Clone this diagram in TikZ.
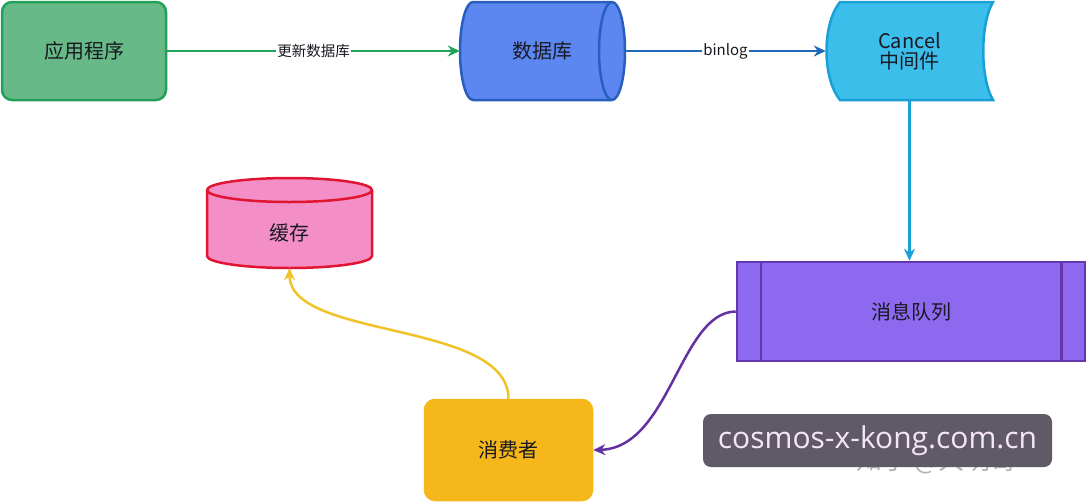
\documentclass[tikz,border=0pt]{standalone}
\usepackage{fontspec}
\setmainfont{Noto Sans CJK SC}
\newfontfamily\wmfont{Open Sans}
\usetikzlibrary{arrows.meta,calc}
\definecolor{appfill}{RGB}{103,185,135}
\definecolor{appborder}{RGB}{35,160,90}
\definecolor{greenarrow}{RGB}{30,165,90}
\definecolor{dbfill}{RGB}{93,135,240}
\definecolor{dbborder}{RGB}{40,95,190}
\definecolor{bluearrow}{RGB}{30,105,185}
\definecolor{cyfill}{RGB}{60,190,235}
\definecolor{cyborder}{RGB}{25,160,215}
\definecolor{mqfill}{RGB}{140,105,238}
\definecolor{mqborder}{RGB}{100,55,175}
\definecolor{purplearrow}{RGB}{100,50,160}
\definecolor{yfill}{RGB}{245,183,26}
\definecolor{yarrow}{RGB}{240,195,40}
\definecolor{pinkfill}{RGB}{243,143,198}
\definecolor{redborder}{RGB}{225,20,50}
\definecolor{wmbox}{RGB}{95,90,102}
\definecolor{wmtext}{RGB}{245,230,245}
\definecolor{txt}{RGB}{25,25,35}
\tikzset{
  shapebox/.style={inner sep=0pt, text=txt, font=\fontsize{20}{24}\selectfont, align=center},
  rbox/.style={shapebox, draw, line width=2.5pt, rounded corners=10pt},
  outl/.style={line width=2.5pt},
  conn/.style={line width=2.5pt, -{Stealth[length=12pt,width=11pt]}},
  lbl/.style={fill=white, inner sep=1pt, text=txt, font=\fontsize{14.5}{17}\selectfont}
}
\begin{document}
\begin{tikzpicture}[x=1pt,y=-1pt]
\useasboundingbox[fill=white] (0,0) rectangle (1086,501);
% database cylinder
\draw[outl, fill=dbfill, draw=dbborder]
  (473,2) -- (612,2) arc[start angle=-90, end angle=90, x radius=13, y radius=49]
  -- (473,100) arc[start angle=90, end angle=270, x radius=13, y radius=49] -- cycle;
\draw[outl, draw=dbborder] (612,2) arc[start angle=-90, end angle=-270, x radius=13, y radius=49];
% cancel shape
\draw[outl, fill=cyfill, draw=cyborder]
  (840,2) -- (993,2) .. controls (980,24) and (980,78) .. (993,100)
  -- (840,100) .. controls (822,78) and (822,24) .. (840,2) -- cycle;
% cache cylinder
\draw[outl, fill=pinkfill, draw=redborder]
  (207,190) -- (207,256) arc[start angle=180, end angle=0, x radius=82.5, y radius=12]
  -- (372,190) arc[start angle=0, end angle=-180, x radius=82.5, y radius=12] -- cycle;
\draw[outl, draw=redborder] (207,190) arc[start angle=180, end angle=0, x radius=82.5, y radius=12];
% nodes
\node[rbox, fill=appfill, draw=appborder, minimum width=164pt, minimum height=98pt] (app) at (84,51) {应用程序};
\node[shapebox, minimum width=165pt, minimum height=98pt] (db) at (542.5,51) {数据库};
\node[shapebox, minimum width=167pt, minimum height=98pt] (cancel) at (909.5,51) {Cancel\\[-4pt]中间件};
\node[shapebox, draw=mqborder, fill=mqfill, line width=2.5pt, minimum width=348pt, minimum height=99pt] (mq) at (911,311.5) {消息队列};
\draw[outl, draw=mqborder] ($(mq.north west)+(25,0)$) -- ($(mq.south west)+(25,0)$);
\draw[outl, draw=mqborder] ($(mq.north east)+(-25,0)$) -- ($(mq.south east)+(-25,0)$);
\node[rbox, fill=yfill, draw=yfill, minimum width=167pt, minimum height=100pt] (cons) at (508.5,450) {消费者};
\node[shapebox, minimum width=165pt, minimum height=70pt] (cache) at (289.5,233) {缓存};
% watermark
\node[text=gray!60, font=\fontsize{26}{28}\selectfont, anchor=west] (zh) at (853,461) {知乎 @大明哥};
\node[fill=wmbox, rounded corners=8pt, minimum width=349pt, minimum height=53pt, inner sep=0pt, text=wmtext, font=\wmfont\fontsize{30}{33}\selectfont] (wm) at (877.5,440.5) {cosmos-x-kong.com.cn};
% connectors
\draw[conn, greenarrow] (app.east) -- node[lbl] {更新数据库} (db.west);
\draw[conn, bluearrow] (db.east) -- node[lbl, font=\fontsize{15}{17}\selectfont] {binlog} (cancel.west);
\draw[conn, cyborder] (cancel.south) -- (cancel.south |- mq.north);
\draw[conn, purplearrow] (mq.west) .. controls (680,312) and (670,448) .. (cons.east);
\draw[conn, yarrow] (cons.north) .. controls (508,320) and (290,340) .. (cache.south);
\end{tikzpicture}
\end{document}
